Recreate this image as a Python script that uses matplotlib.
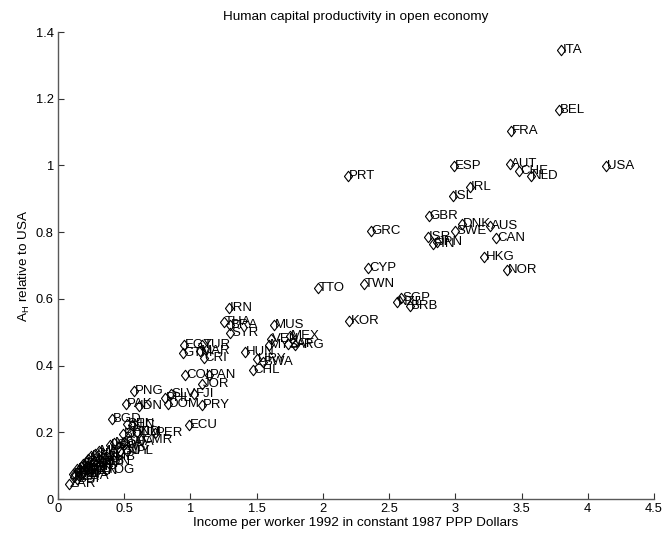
import numpy as np
import matplotlib
matplotlib.use("Agg")
import matplotlib.pyplot as plt
from matplotlib.ticker import FuncFormatter

# country codes, income per worker (relative units) and A_H relative to USA
countries = ["ITA", "BEL", "FRA", "ESP", "AUT", "CHE", "NLD", "USA", "IRL", "ISL",
             "GBR", "DNK", "AUS", "SWE", "ISR", "FIN", "JPN", "CAN", "HKG", "NOR",
             "PRT", "GRC", "CYP", "TWN", "TTO", "SGP", "NZL", "BRB", "KOR", "IRN",
             "THA", "BRA", "SYR", "MUS", "VEN", "MEX", "MYS", "ZAF", "ARG", "HUN",
             "URY", "BWA", "CHL", "EGY", "TUR", "GTM", "MAR", "CRI", "COL", "PAN",
             "JOR", "PNG", "SLV", "FJI", "PHL", "PAK", "IDN", "DOM", "PRY", "BGD",
             "SEN", "NIC", "ECU", "BOL", "HND", "ZIM", "PER", "NGA", "GHA", "CMR",
             "GUY", "NPL", "LSO", "CIV", "ZMB", "GMB", "TOG", "SDN", "MRT", "HTI",
             "SLE", "KEN", "BEN", "MDG", "GNB", "CAF", "TCD", "RWA", "BFA", "MWI",
             "UGA", "NER", "BDI", "MLI", "TZA", "ETH", "MOZ", "ZAR"]

income = [3.80, 3.78, 3.42, 2.99, 3.41, 3.48, 3.57, 4.14, 3.11, 2.98,
          2.80, 3.05, 3.26, 3.00, 2.79, 2.83, 2.86, 3.31, 3.22, 3.39,
          2.19, 2.36, 2.34, 2.31, 1.96, 2.59, 2.56, 2.66, 2.20, 1.29,
          1.25, 1.30, 1.30, 1.63, 1.61, 1.75, 1.59, 1.74, 1.79, 1.41,
          1.50, 1.55, 1.47, 0.95, 1.09, 0.94, 1.07, 1.10, 0.96, 1.14,
          1.085, 0.57, 0.85, 1.03, 0.81, 0.51, 0.61, 0.83, 1.09, 0.41,
          0.52, 0.555, 0.99, 0.49, 0.55, 0.60, 0.73, 0.42, 0.50, 0.63,
          0.47, 0.52, 0.39, 0.45, 0.37, 0.27, 0.36, 0.33, 0.31, 0.29,
          0.28, 0.25, 0.24, 0.23, 0.22, 0.21, 0.20, 0.19, 0.18, 0.17,
          0.16, 0.15, 0.14, 0.13, 0.12, 0.11, 0.14, 0.08]

ah = [1.347, 1.166, 1.104, 0.999, 1.004, 0.984, 0.967, 0.999, 0.934, 0.907,
      0.849, 0.824, 0.819, 0.802, 0.786, 0.766, 0.770, 0.782, 0.726, 0.687,
      0.967, 0.804, 0.694, 0.646, 0.634, 0.604, 0.592, 0.579, 0.534, 0.574,
      0.532, 0.522, 0.497, 0.522, 0.480, 0.489, 0.462, 0.464, 0.462, 0.441,
      0.420, 0.412, 0.387, 0.461, 0.461, 0.439, 0.444, 0.422, 0.372, 0.372,
      0.346, 0.324, 0.316, 0.316, 0.302, 0.286, 0.279, 0.284, 0.282, 0.239,
      0.226, 0.222, 0.222, 0.194, 0.200, 0.200, 0.199, 0.168, 0.172, 0.178,
      0.144, 0.145, 0.161, 0.155, 0.125, 0.115, 0.087, 0.110, 0.145, 0.105,
      0.135, 0.130, 0.085, 0.120, 0.100, 0.110, 0.090, 0.105, 0.080, 0.095,
      0.070, 0.085, 0.060, 0.075, 0.065, 0.075, 0.090, 0.044]

plt.rcParams['font.family'] = ['Liberation Sans', 'DejaVu Sans']
plt.rcParams['mathtext.fontset'] = 'custom'
plt.rcParams['mathtext.rm'] = 'Liberation Sans'
plt.rcParams['mathtext.it'] = 'Liberation Sans'

fig = plt.figure(figsize=(6.66, 5.41), dpi=100)
ax = fig.add_axes([0.0871, 0.0776, 0.8949, 0.8632])

# MATLAB style diamond, a bit narrower than tall
diamond = [(-0.78, 0), (0, 1), (0.78, 0), (0, -1), (-0.78, 0)]
ax.plot(income, ah, linestyle='none', marker=diamond, markersize=7.5,
        markerfacecolor='none', markeredgecolor='k', markeredgewidth=0.8)

for name, xi, yi in zip(countries, income, ah):
    ax.annotate(name, (xi, yi), xytext=(1, 0), textcoords='offset pixels',
                ha='left', va='center', fontsize=9.5, color='k')

ax.set_xlim(0, 4.5)
ax.set_ylim(0, 1.4)
ax.set_xticks(np.arange(0, 4.51, 0.5))
ax.set_yticks(np.arange(0, 1.41, 0.2))
fmt = FuncFormatter(lambda v, p: "%g" % round(v, 2))
ax.xaxis.set_major_formatter(fmt)
ax.yaxis.set_major_formatter(fmt)
ax.tick_params(direction='in', length=4, width=0.8, labelsize=9.3, colors='0.2',
               labelcolor='k', pad=3)

for s in ['top', 'right']:
    ax.spines[s].set_visible(False)
for s in ['left', 'bottom']:
    ax.spines[s].set_color('0.35')
    ax.spines[s].set_linewidth(1.0)

ax.set_title("Human capital productivity in open economy", fontsize=9.7, pad=9)
ax.set_xlabel("Income per worker 1992 in constant 1987 PPP Dollars", fontsize=9.7, labelpad=1)
ax.set_ylabel(r"A$_{\mathrm{H}}$ relative to USA", fontsize=9.7, labelpad=3)

fig.savefig("out.png", dpi=100)
